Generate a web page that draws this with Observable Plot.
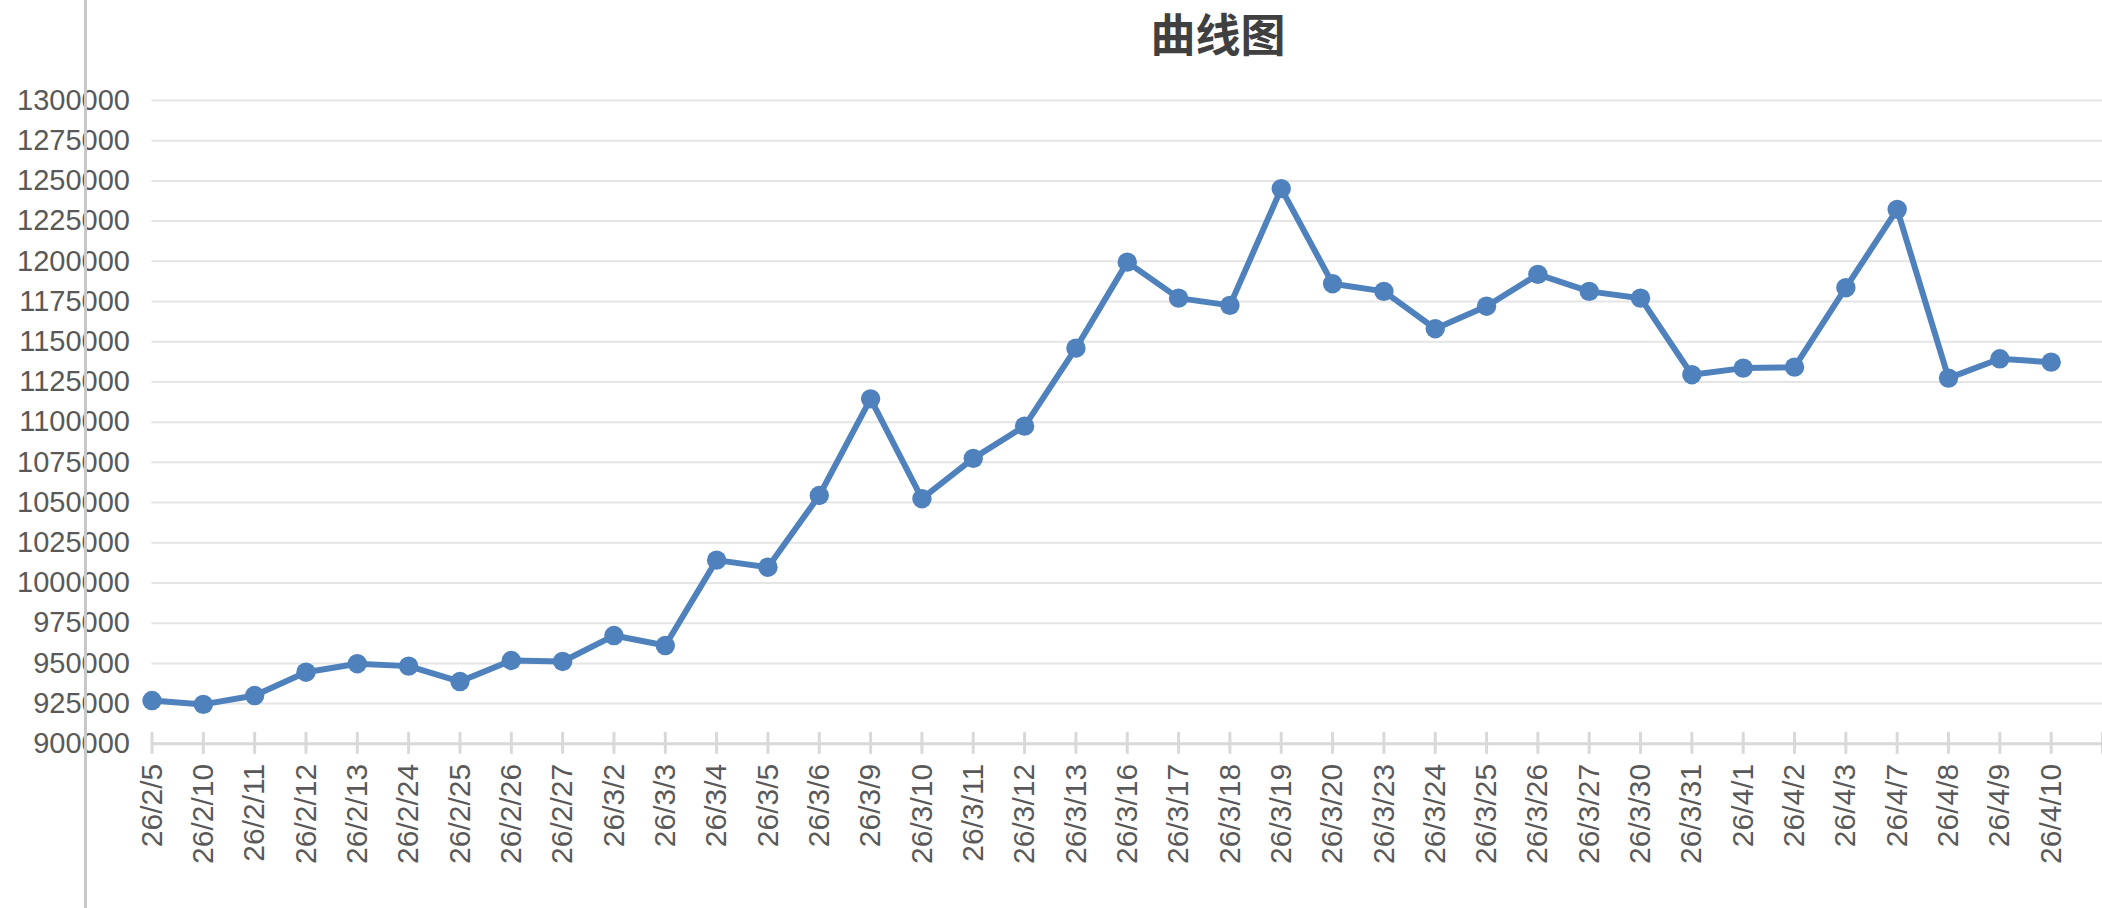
<!DOCTYPE html>
<html>
<head>
<meta charset="utf-8">
<script src="https://cdn.jsdelivr.net/npm/d3@7"></script>
<script src="https://cdn.jsdelivr.net/npm/@observablehq/plot@0.6"></script>
<style>
  html, body { margin: 0; padding: 0; background: #fff; }
  #wrap { position: relative; width: 2102px; height: 908px; overflow: hidden; background: #fff; }
  #title { position: relative; height: 50px; }
  #title span {
    position: absolute; left: 1218px; top: 0; transform: translateX(-50%);
    font-family: "Noto Sans CJK SC", sans-serif; font-weight: bold;
    font-size: 45px; line-height: normal; color: #404040; white-space: nowrap;
  }
  #edge { position: absolute; left: 84px; top: 0; width: 3px; height: 908px; background: #c8c8c8; z-index: 10; }
</style>
</head>
<body>
<div id="wrap">
  <div id="title"><span>曲线图</span></div>
  <div id="chart"></div>
  <div id="edge"></div>
</div>
<script>
const dates = ["26/2/5","26/2/10","26/2/11","26/2/12","26/2/13","26/2/24","26/2/25","26/2/26","26/2/27","26/3/2",
  "26/3/3","26/3/4","26/3/5","26/3/6","26/3/9","26/3/10","26/3/11","26/3/12","26/3/13","26/3/16",
  "26/3/17","26/3/18","26/3/19","26/3/20","26/3/23","26/3/24","26/3/25","26/3/26","26/3/27","26/3/30",
  "26/3/31","26/4/1","26/4/2","26/4/3","26/4/7","26/4/8","26/4/9","26/4/10"];
const values = [926900, 924500, 930000, 944500, 949800, 948300, 938700, 951800, 951200, 967300,
  961100, 1014200, 1009800, 1054400, 1114500, 1052400, 1077500, 1097500, 1146000, 1199500,
  1177100, 1172600, 1245200, 1186100, 1181300, 1158100, 1172100, 1191900, 1181300, 1177100,
  1129500, 1133600, 1134200, 1183600, 1232300, 1127400, 1139400, 1137300];
const yTicks = d3.range(900000, 1300001, 25000);

const data = dates.map((d, i) => ({i, date: d, value: values[i]}));
const xTicks = d3.range(0, dates.length + 1);
const labelTicks = d3.range(0, dates.length);

const chart = Plot.plot({
  width: 2102,
  height: 858,
  marginTop: 50,
  marginBottom: 164.7,
  marginLeft: 151.5,
  marginRight: 0,
  style: {fontFamily: "'Liberation Sans', Arial, Helvetica, sans-serif", background: "white", overflow: "visible"},
  x: {type: "linear", domain: [0, dates.length]},
  y: {domain: [900000, 1300000]},
  marks: [
    Plot.gridY(yTicks.filter(v => v > 900000), {stroke: "#e5e5e5", strokeOpacity: 1, strokeWidth: 2}),
    Plot.ruleY([900000], {stroke: "#d9d9d9", strokeWidth: 3}),
    Plot.axisX({ticks: xTicks, tickSize: 22, dy: -11.5, fill: "none", stroke: "#d9d9d9", strokeWidth: 3, label: null}),
    Plot.axisX({ticks: labelTicks, tickFormat: i => dates[i], tickRotate: -90, tickSize: 0, tickPadding: 20,
      fontSize: 30, fill: "#595959", label: null}),
    Plot.axisY({ticks: yTicks, tickFormat: d => String(d), tickSize: 0, tickPadding: 22,
      fontSize: 29, fill: "#595959", label: null}),
    Plot.line(data, {x: "i", y: "value", stroke: "#4f81bd", strokeWidth: 6, strokeLinejoin: "round"}),
    Plot.dot(data, {x: "i", y: "value", r: 9.7, fill: "#4f81bd", stroke: "none"})
  ]
});
document.getElementById("chart").appendChild(chart);
</script>
</body>
</html>
